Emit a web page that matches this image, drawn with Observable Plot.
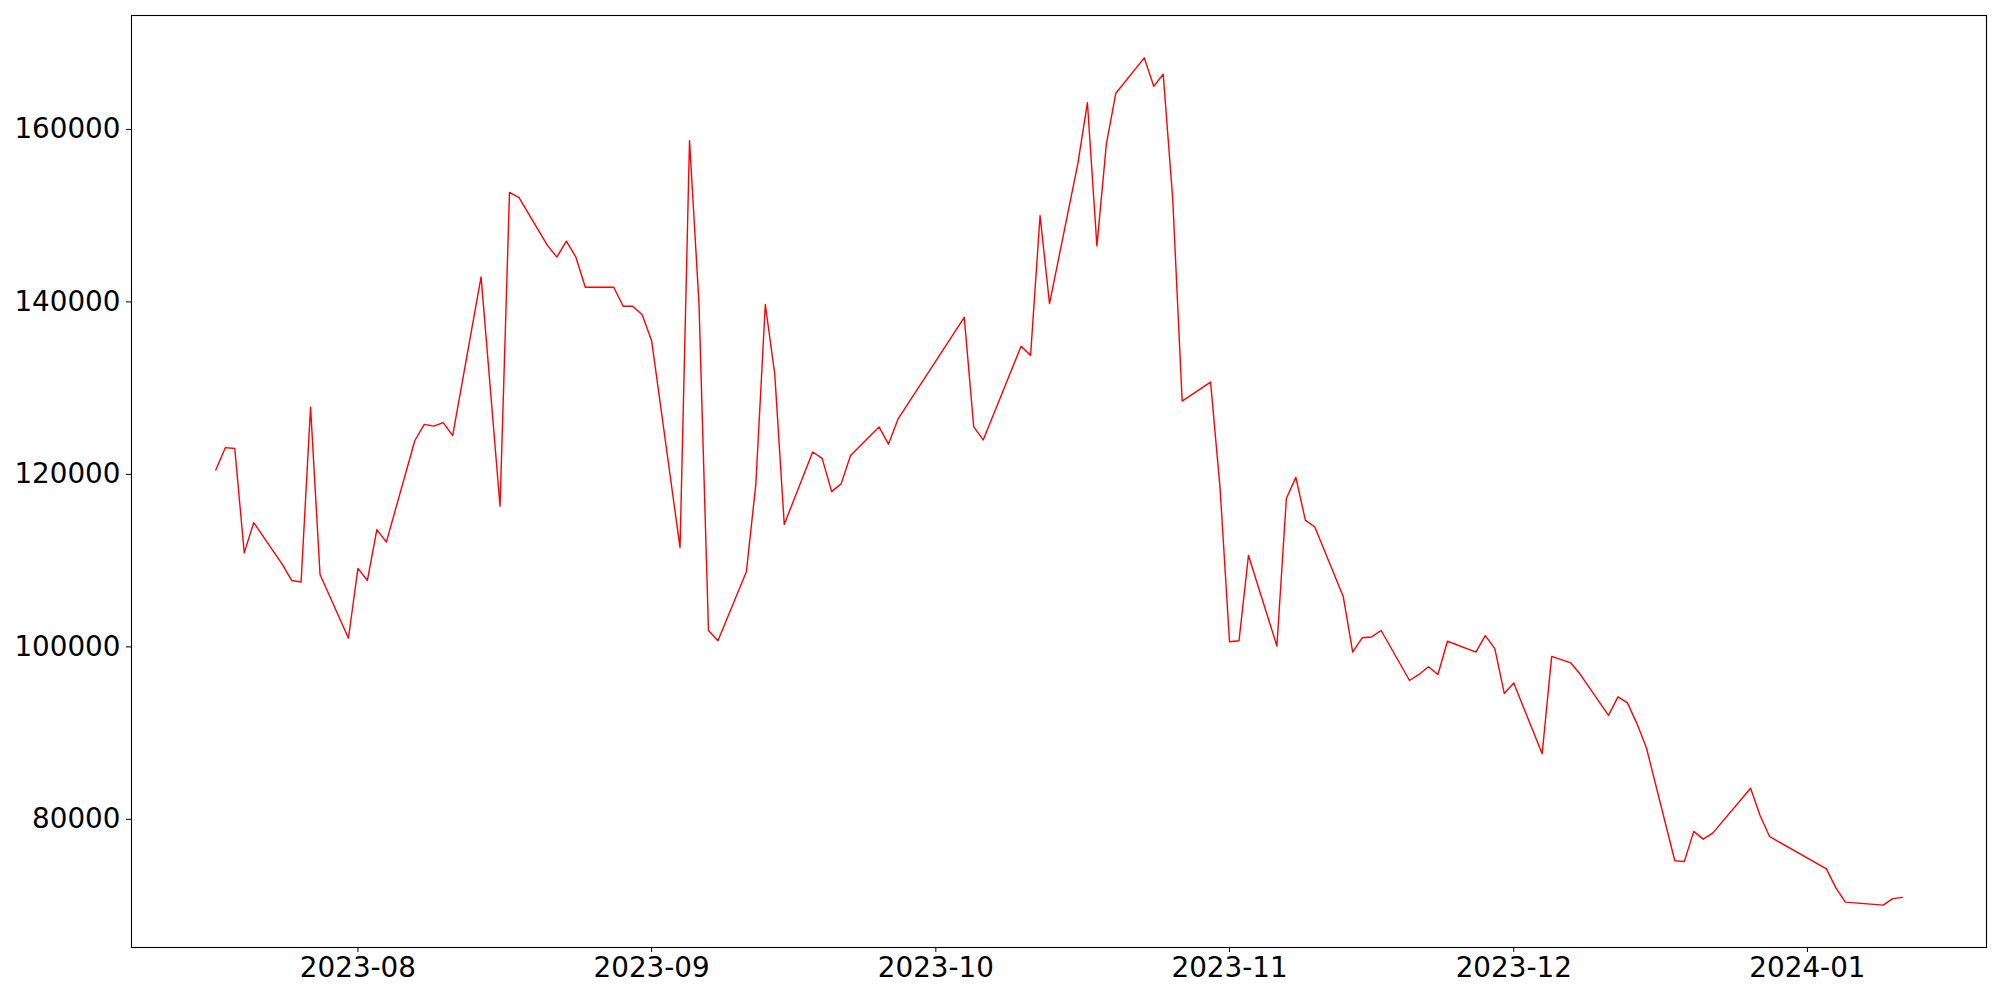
<!DOCTYPE html>
<html>
<head>
<meta charset="utf-8">
<script src="https://cdn.jsdelivr.net/npm/d3@7"></script>
<script src="https://cdn.jsdelivr.net/npm/@observablehq/plot@0.6"></script>
<style>
  html, body { margin: 0; padding: 0; background: #ffffff; }
  #chart svg { display: block; }
</style>
</head>
<body>
<div id="chart"></div>
<script>
const dates = [
  "2023-07-17","2023-07-18","2023-07-19","2023-07-20","2023-07-21","2023-07-24","2023-07-25","2023-07-26","2023-07-27","2023-07-28","2023-07-31",
  "2023-08-01","2023-08-02","2023-08-03","2023-08-04","2023-08-07","2023-08-08","2023-08-09","2023-08-10","2023-08-11","2023-08-14","2023-08-16","2023-08-17","2023-08-18","2023-08-21","2023-08-22","2023-08-23","2023-08-24","2023-08-25","2023-08-28","2023-08-29","2023-08-30","2023-08-31",
  "2023-09-01","2023-09-04","2023-09-05","2023-09-06","2023-09-07","2023-09-08","2023-09-11","2023-09-12","2023-09-13","2023-09-14","2023-09-15","2023-09-18","2023-09-19","2023-09-20","2023-09-21","2023-09-22","2023-09-25","2023-09-26","2023-09-27",
  "2023-10-04","2023-10-05","2023-10-06","2023-10-10","2023-10-11","2023-10-12","2023-10-13","2023-10-16","2023-10-17","2023-10-18","2023-10-19","2023-10-20","2023-10-23","2023-10-24","2023-10-25","2023-10-26","2023-10-27","2023-10-30","2023-10-31",
  "2023-11-01","2023-11-02","2023-11-03","2023-11-06","2023-11-07","2023-11-08","2023-11-09","2023-11-10","2023-11-13","2023-11-14","2023-11-15","2023-11-16","2023-11-17","2023-11-20","2023-11-21","2023-11-22","2023-11-23","2023-11-24","2023-11-27","2023-11-28","2023-11-29","2023-11-30",
  "2023-12-01","2023-12-04","2023-12-05","2023-12-07","2023-12-08","2023-12-11","2023-12-12","2023-12-13","2023-12-14","2023-12-15","2023-12-18","2023-12-19","2023-12-20","2023-12-21","2023-12-22","2023-12-26","2023-12-27","2023-12-28",
  "2024-01-03","2024-01-04","2024-01-05","2024-01-09","2024-01-10","2024-01-11"
];

const values = [
  120500,123100,123000,110900,114400,109600,107700,107500,127800,108400,101000,
  109100,107700,113600,112150,123900,125800,125600,126000,124500,142900,116300,152700,152100,146550,145200,147050,145200,141700,141700,139500,139500,138500,
  135500,111500,158700,139800,101900,100700,108700,118850,139700,131600,114200,122600,121850,118000,118900,122200,125500,123500,126400,
  138200,125500,124000,134850,133800,150000,139800,156100,163100,146500,158300,164200,168300,165000,166400,152000,128500,130700,118400,
  100600,100700,110600,100100,117200,119650,114700,113900,105850,99400,101050,101150,101900,96100,96800,97700,96800,100650,99400,101300,99800,94600,
  95800,87600,98900,98150,96850,92050,94200,93500,91100,88300,75200,75100,78600,77700,78400,83600,80450,78000,
  74250,72050,70400,70050,70800,70950
];

const xTickLabels = ["2023-08","2023-09","2023-10","2023-11","2023-12","2024-01"];
const yTicks = [80000, 100000, 120000, 140000, 160000];

const data = dates.map((d, i) => ({date: new Date(d + "T00:00:00Z"), value: values[i]}));

// matplotlib-style 5% margins on data extent
const [t0, t1] = d3.extent(data, d => d.date);
const tPad = (t1 - t0) * 0.05;
const [v0, v1] = d3.extent(data, d => d.value);
const vPad = (v1 - v0) * 0.05;

const xTicks = xTickLabels.map(s => new Date(s + "-01T00:00:00Z"));

const chart = Plot.plot({
  width: 2000,
  height: 1000,
  marginLeft: 131,
  marginRight: 14,
  marginTop: 15,
  marginBottom: 53,
  style: {
    fontFamily: "'DejaVu Sans', sans-serif",
    fontSize: "27.8px",
    color: "#000000",
    background: "#ffffff",
    overflow: "visible"
  },
  x: {type: "utc", domain: [new Date(+t0 - tPad), new Date(+t1 + tPad)]},
  y: {domain: [v0 - vPad, v1 + vPad]},
  marks: [
    Plot.line(data, {x: "date", y: "value", stroke: "#ff0000", strokeWidth: 1.4}),
    Plot.frame({stroke: "#000000", strokeWidth: 1.1}),
    Plot.axisX({
      ticks: xTicks,
      tickFormat: d3.utcFormat("%Y-%m"),
      tickSize: 5,
      tickPadding: 5,
      label: null,
      fontSize: 27.8
    }),
    Plot.axisY({
      ticks: yTicks,
      tickFormat: d3.format("d"),
      tickSize: 5,
      tickPadding: 6,
      label: null,
      fontSize: 27.8
    })
  ]
});

document.getElementById("chart").appendChild(chart);
</script>
</body>
</html>
